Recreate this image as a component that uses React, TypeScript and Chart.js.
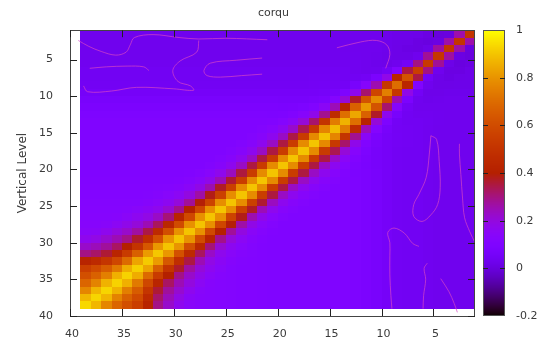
import { useEffect, useRef } from "react";
import { Chart, registerables } from "chart.js";

Chart.register(...registerables);

// Vertical levels 1..39 (grid nodes of the correlation matrix)
const levels = Array.from({ length: 39 }, (_, i) => i + 1);
const levelTicks = [5, 10, 15, 20, 25, 30, 35, 40];
const colorTicks = [-0.2, 0, 0.2, 0.4, 0.6, 0.8, 1];
const cbMin = -0.2;
const cbMax = 1;

// Correlation between level i and level i+k, listed for i = 1, 2, ...
const lag1 = [0.02, 0.02, 0.03, 0.04, 0.06, 0.1, 0.25, 0.4, 0.5, 0.56,
  0.62, 0.68, 0.73, 0.77, 0.79, 0.8, 0.8, 0.8, 0.8, 0.8,
  0.8, 0.8, 0.8, 0.8, 0.8, 0.8, 0.8, 0.8, 0.8, 0.8,
  0.81, 0.82, 0.84, 0.85, 0.85, 0.86, 0.86, 0.87];
const lag2 = [0, 0, 0.01, 0.02, 0.03, 0.05, 0.1, 0.18, 0.26, 0.32,
  0.38, 0.43, 0.47, 0.5, 0.51, 0.52, 0.52, 0.52, 0.52, 0.52,
  0.52, 0.53, 0.54, 0.55, 0.56, 0.57, 0.58, 0.59, 0.6, 0.62,
  0.64, 0.68, 0.72, 0.74, 0.75, 0.76, 0.77];
const lag3 = [0, 0, 0, 0.01, 0.02, 0.03, 0.05, 0.08, 0.12, 0.16,
  0.2, 0.24, 0.28, 0.31, 0.32, 0.33, 0.33, 0.33, 0.33, 0.33,
  0.34, 0.35, 0.36, 0.37, 0.39, 0.4, 0.42, 0.44, 0.46, 0.48,
  0.52, 0.54, 0.64, 0.66, 0.67, 0.68];
const lag4 = [0.01, 0.01, 0.01, 0.01, 0.02, 0.02, 0.03, 0.05, 0.07, 0.09,
  0.12, 0.15, 0.18, 0.21, 0.22, 0.22, 0.22, 0.22, 0.22, 0.22,
  0.23, 0.24, 0.25, 0.26, 0.27, 0.29, 0.31, 0.33, 0.35, 0.37,
  0.41, 0.44, 0.58, 0.6, 0.62];
const lag5 = [0.02, 0.02, 0.02, 0.02, 0.02, 0.03, 0.03, 0.04, 0.05, 0.07,
  0.09, 0.11, 0.13, 0.15, 0.16, 0.16, 0.16, 0.16, 0.16, 0.16,
  0.17, 0.17, 0.18, 0.19, 0.2, 0.21, 0.23, 0.25, 0.27, 0.3,
  0.33, 0.38, 0.54, 0.56];
const lag6 = [0.02, 0.02, 0.02, 0.03, 0.03, 0.03, 0.04, 0.04, 0.05, 0.06,
  0.08, 0.1, 0.11, 0.12, 0.13, 0.13, 0.13, 0.13, 0.13, 0.13,
  0.13, 0.14, 0.15, 0.15, 0.16, 0.17, 0.19, 0.21, 0.23, 0.26,
  0.29, 0.34, 0.5];
const lag7 = [0.02, 0.02, 0.03, 0.03, 0.03, 0.04, 0.04, 0.05, 0.05, 0.06,
  0.07, 0.09, 0.1, 0.11, 0.11, 0.11, 0.11, 0.11, 0.11, 0.11,
  0.12, 0.12, 0.13, 0.14, 0.15, 0.16, 0.17, 0.19, 0.21, 0.22,
  0.27, 0.32];
const lag8 = [0.02, 0.03, 0.03, 0.03, 0.04, 0.04, 0.04, 0.05, 0.05, 0.06,
  0.07, 0.08, 0.09, 0.1, 0.1, 0.1, 0.1, 0.1, 0.1, 0.1,
  0.11, 0.11, 0.12, 0.12, 0.13, 0.14, 0.15, 0.16, 0.18, 0.2,
  0.25];
// Correlation for separations beyond 8 levels, by the upper (smaller) level
const farCorr = [0.03, 0.03, 0.03, 0.03, 0.03, 0.04, 0.04, 0.04, 0.05, 0.06,
  0.08, 0.09, 0.1, 0.1, 0.1, 0.1, 0.1, 0.1, 0.1, 0.1,
  0.1, 0.11, 0.11, 0.11, 0.12, 0.12, 0.13, 0.13, 0.15, 0.18];

// Zero-correlation contour lines, as (level, level) pairs
const contourTop1 = [[39.2, 2.4], [38.2, 3.2], [37, 3.9], [35.6, 4.4], [34.6, 4.0], [34.2, 3.0], [33.8, 2.0], [32, 1.6], [29.5, 2.0], [27.6, 2.2], [25, 2.1], [21, 2.3]];
const contourTop2 = [[38.1, 6.2], [36.5, 6.0], [34.5, 5.9], [32.9, 6.0], [32.4, 6.5]];
const contourTop3 = [[27.6, 2.4], [27.8, 4.0], [29.4, 5.2], [30.1, 6.5], [29.6, 8.0], [28.4, 8.6], [28.1, 9.2], [30, 9.0], [33.6, 8.8], [36, 9.3], [38.3, 9.4], [38.7, 8.6]];
const contourTop4 = [[21.5, 4.8], [24, 5.1], [26.5, 5.5], [27.1, 6.5], [26.8, 7.2], [25.5, 7.4], [23.5, 7.2], [21.5, 7.0]];
const contourTop5 = [[14.3, 3.4], [12, 2.6], [10.5, 2.4], [9.5, 3.0], [9.2, 4.3], [9.6, 6.2]];
const contourRight1 = [[5.25, 15.4], [5.4, 17.9], [5.7, 21.1], [6.4, 23.4], [6.9, 24.8], [6.9, 26.4], [6.1, 27.1], [5.25, 26.2], [4.6, 24.8], [4.35, 22.5], [4.45, 18.9], [4.7, 15.9], [5.25, 15.4]];
const contourRight2 = [[6.4, 30.5], [7.0, 30.1], [7.8, 28.7], [8.8, 28.0], [9.4, 28.6], [9.2, 30], [9.2, 31.7], [9.2, 34.4], [9.1, 37.2], [9.0, 39]];
const contourRight3 = [[5.6, 32.8], [5.9, 33.5], [5.75, 35], [5.95, 37.2], [6.0, 39]];
const contourRight4 = [[4.3, 34.9], [3.5, 36.7], [3.0, 38.3], [2.7, 39.5]];
const contourRight5 = [[2.5, 16.5], [2.5, 17.9], [2.36, 20.7], [2.2, 23.9], [2.0, 26.6], [1.5, 28.5], [1.0, 30]];

const contours = [contourTop1, contourTop2, contourTop3, contourTop4, contourTop5,
  contourRight1, contourRight2, contourRight3, contourRight4, contourRight5];

const lags = [lag1, lag2, lag3, lag4, lag5, lag6, lag7, lag8];

function corr(a: number, b: number): number {
  if (a === b) return 1;
  const lo = Math.min(a, b);
  const k = Math.abs(a - b);
  if (k <= lags.length) return lags[k - 1][lo - 1];
  return farCorr[lo - 1];
}

// pm3d-style cells: each cell between neighbouring levels takes the mean of its four corners
type Cell = { x0: number; x1: number; y0: number; y1: number; v: number };
const cells: Cell[] = [];
for (let ia = 0; ia < levels.length - 1; ia++) {
  for (let ib = 0; ib < levels.length - 1; ib++) {
    const a = levels[ia], a1 = levels[ia + 1];
    const b = levels[ib], b1 = levels[ib + 1];
    const v = (corr(a, b) + corr(a1, b) + corr(a, b1) + corr(a1, b1)) / 4;
    cells.push({ x0: a, x1: a1, y0: b, y1: b1, v });
  }
}

// gnuplot default palette (rgbformulae 7,5,15)
function palette(v: number): string {
  const g = Math.min(1, Math.max(0, (v - cbMin) / (cbMax - cbMin)));
  const r = Math.sqrt(g);
  const gg = g * g * g;
  const b = Math.max(0, Math.sin(2 * Math.PI * g));
  return `rgb(${Math.round(r * 255)},${Math.round(gg * 255)},${Math.round(b * 255)})`;
}

const FONT = "'DejaVu Sans', Verdana, sans-serif";
const TEXT = "#3a3a3a";
const TICK_LEN = 7;

const heatmapPlugin = {
  id: "corrHeatmap",
  beforeDatasetsDraw(chart: any) {
    const { ctx, chartArea, scales } = chart;
    const xs = scales.x, ys = scales.y;
    ctx.save();
    ctx.beginPath();
    ctx.rect(chartArea.left, chartArea.top, chartArea.right - chartArea.left, chartArea.bottom - chartArea.top);
    ctx.clip();
    for (const c of cells) {
      const xa = Math.round(xs.getPixelForValue(c.x0));
      const xb = Math.round(xs.getPixelForValue(c.x1));
      const ya = Math.round(ys.getPixelForValue(c.y0));
      const yb = Math.round(ys.getPixelForValue(c.y1));
      ctx.fillStyle = palette(c.v);
      ctx.fillRect(Math.min(xa, xb), Math.min(ya, yb), Math.abs(xb - xa), Math.abs(yb - ya));
    }
    ctx.restore();
  },
};

const framePlugin = {
  id: "frameAndTicks",
  afterDatasetsDraw(chart: any) {
    const { ctx, chartArea, scales } = chart;
    const { left, right, top, bottom } = chartArea;
    ctx.save();
    ctx.strokeStyle = "#444";
    ctx.lineWidth = 1;
    ctx.strokeRect(Math.round(left) + 0.5, Math.round(top) + 0.5, Math.round(right - left) - 1, Math.round(bottom - top));
    ctx.strokeStyle = "#222";
    ctx.beginPath();
    for (const t of levelTicks) {
      const px = Math.round(scales.x.getPixelForValue(t)) + 0.5;
      ctx.moveTo(px, bottom); ctx.lineTo(px, bottom - TICK_LEN);
      ctx.moveTo(px, top); ctx.lineTo(px, top + TICK_LEN);
      const py = Math.round(scales.y.getPixelForValue(t)) + 0.5;
      ctx.moveTo(left, py); ctx.lineTo(left + TICK_LEN, py);
      ctx.moveTo(right, py); ctx.lineTo(right - TICK_LEN, py);
    }
    ctx.stroke();
    ctx.restore();
  },
};

const colorbarPlugin = {
  id: "colorbar",
  afterDraw(chart: any) {
    const { ctx, chartArea, scales } = chart;
    const cb = scales.cb;
    const x0 = Math.round(chartArea.right) + 8;
    const w = 22;
    const top = Math.round(cb.top);
    const bottom = Math.round(cb.bottom);
    ctx.save();
    for (let py = top; py < bottom; py++) {
      ctx.fillStyle = palette(cb.getValueForPixel(py + 0.5));
      ctx.fillRect(x0, py, w, 1);
    }
    ctx.strokeStyle = "#555";
    ctx.lineWidth = 1;
    ctx.strokeRect(x0 + 0.5, top + 0.5, w - 1, bottom - top - 1);
    ctx.strokeStyle = "#222";
    ctx.beginPath();
    for (const t of colorTicks) {
      if (t === cbMin || t === cbMax) continue;
      const py = Math.round(cb.getPixelForValue(t)) + 0.5;
      ctx.moveTo(x0, py); ctx.lineTo(x0 + 5, py);
      ctx.moveTo(x0 + w, py); ctx.lineTo(x0 + w - 5, py);
    }
    ctx.stroke();
    ctx.restore();
  },
};

export default function App() {
  const ref = useRef<HTMLCanvasElement | null>(null);

  useEffect(() => {
    const canvas = ref.current;
    if (!canvas) return;
    const chart = new Chart(canvas, {
      type: "scatter",
      data: {
        datasets: contours.map((pts) => ({
          data: pts.map(([x, y]) => ({ x, y })),
          showLine: true,
          borderColor: "rgba(214, 70, 196, 0.7)",
          borderWidth: 1,
          pointRadius: 0,
          tension: 0.35,
          xAxisID: "x",
          yAxisID: "y",
        })),
      },
      options: {
        animation: false,
        responsive: false,
        devicePixelRatio: 1,
        layout: { padding: 0 },
        plugins: {
          legend: { display: false },
          tooltip: { enabled: false },
          title: {
            display: true,
            text: "corqu",
            color: TEXT,
            font: { family: FONT, size: 11, weight: "normal" },
            padding: { top: 7, bottom: 10 },
          },
        },
        scales: {
          x: {
            type: "linear",
            reverse: true,
            min: 1,
            max: 40,
            afterBuildTicks: (s: any) => { s.ticks = levelTicks.map((value) => ({ value })); },
            afterFit: (s: any) => { s.height = 31; s.paddingLeft = 0; s.paddingRight = 0; },
            ticks: { autoSkip: false, maxRotation: 0, padding: 12, labelOffset: 2, color: TEXT, font: { family: FONT, size: 11 } },
            grid: { display: false, drawTicks: false },
            border: { display: false },
          },
          y: {
            type: "linear",
            position: "left",
            reverse: true,
            min: 1,
            max: 40,
            afterBuildTicks: (s: any) => { s.ticks = levelTicks.map((value) => ({ value })); },
            afterFit: (s: any) => { s.width = 70; s.paddingTop = 0; s.paddingBottom = 0; },
            ticks: { autoSkip: false, padding: 17, color: TEXT, font: { family: FONT, size: 11 } },
            grid: { display: false, drawTicks: false },
            border: { display: false },
            title: {
              display: true,
              text: "Vertical Level",
              color: TEXT,
              font: { family: FONT, size: 12 },
              padding: { top: 16, bottom: 0 },
            },
          },
          cb: {
            type: "linear",
            axis: "y",
            position: "right",
            min: cbMin,
            max: cbMax,
            afterBuildTicks: (s: any) => { s.ticks = colorTicks.map((value) => ({ value })); },
            afterFit: (s: any) => { s.width = 72; s.paddingTop = 0; s.paddingBottom = 0; },
            ticks: { autoSkip: false, padding: 41, color: TEXT, font: { family: FONT, size: 11 }, callback: (v: any) => String(v) },
            grid: { display: false, drawTicks: false },
            border: { display: false },
          },
        },
      } as any,
      plugins: [heatmapPlugin, framePlugin, colorbarPlugin],
    });
    return () => chart.destroy();
  }, []);

  return (
    <div style={{ position: "fixed", left: 0, top: 0, width: 547, height: 347, background: "#fff" }}>
      <canvas ref={ref} width={547} height={347} style={{ display: "block", width: 547, height: 347 }} />
    </div>
  );
}
